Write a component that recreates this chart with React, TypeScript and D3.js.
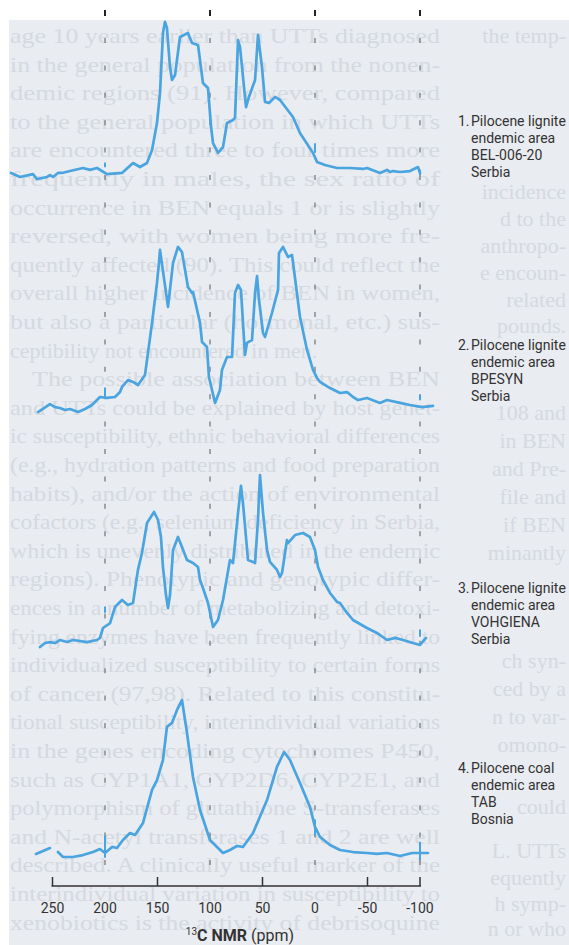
import React from 'react';
import * as d3 from 'd3';

// ---- data ----

// chemical shift ticks (ppm)
const tickLabels = [250, 200, 150, 100, 50, 0, -50, -100];
const gridPpm = [200, 100, 0, -100];
const axisTickPpm = [250, 150, 50, -50, -100];

// spectrum 1: BEL-006-20 (intensity, arbitrary units)
const ppm1 = [289.5, 281, 268.6, 264.8, 255.2, 252.4, 249.5, 244.8, 241, 233.3, 221, 214.3, 207.6, 198.1, 183.8, 173.3, 166.7, 160, 155.2, 150.5, 147.6, 144.8, 142.9, 141, 138.1, 136.2, 133.3, 128.6, 121, 117.1, 111.4, 106.7, 101.9, 99, 97.1, 92.4, 87.6, 83.8, 78.1, 76.2, 73.3, 71.4, 65.7, 62.9, 57.1, 54.3, 50.5, 47.6, 43.8, 38.1, 33.3, 21, 14.3, 1.9, -1.9, -9.5, -21, -33.3, -45.7, -49.5, -61.9, -68.6, -71.4, -74.3, -81, -90.5, -98.1, -100];
const int1 = [-0.6, -3.1, -1.3, -4.4, -3.1, -1.9, -3.1, -0.6, -0.6, 0.6, 2.5, 1.3, 2.5, -1.3, -0.6, 5.6, 3.1, 5.6, 13.8, 30.6, 49.4, 86.9, 93.8, 90, 65.6, 57.5, 60.6, 84.4, 86.9, 80.6, 79.4, 55.6, 52.5, 28.1, 18.1, 11.9, 15.6, 30.6, 32.5, 33.8, 82.5, 78.1, 40.6, 46.9, 57.5, 85.6, 65.6, 43.8, 43.1, 46.9, 45, 34.4, 24.4, 11.9, 6.3, 4.4, 2.5, 2.5, 1.9, 2.5, -0.6, 1.3, 0, 0.6, 0, 0.6, 3.1, -0.6];

// spectrum 2: BPESYN
const ppm2 = [263.8, 252.4, 247.6, 242.9, 238.1, 233.3, 225.7, 219, 212.4, 204.8, 198.1, 190.5, 185.7, 183.8, 178.1, 173.3, 168.6, 161.9, 155.2, 150.5, 148.6, 147.6, 140, 135.2, 130.5, 126.7, 121, 117.1, 116.2, 109.5, 107.6, 102.9, 101, 95.2, 90.5, 88.6, 83.8, 79, 76.2, 73.3, 70.5, 66.7, 64.8, 60, 57.1, 55.2, 53.3, 49.5, 47.6, 41, 35.2, 34.3, 30.5, 25.7, 21.9, 21, 14.3, 7.6, 1.9, -1.9, -4.8, -14.3, -23.8, -30.5, -36.2, -41, -49.5, -61.9, -68.6, -81, -90.5, -101.9, -112.4];
const int2 = [-4.4, 0.6, -1.3, -1.9, -3.1, -2.5, -4.4, -2.5, 0, 5, 4.4, 5, 8.1, 11.3, 15.6, 14.4, 12.5, 18.8, 51.3, 76.3, 89, 96.9, 61.3, 88.8, 98.8, 95.6, 73.8, 70, 70.6, 51.3, 39.4, 36.3, 17.5, 1.3, 9.4, 21.9, 30, 30, 70, 75, 71.9, 31.3, 38.8, 40.6, 70, 80.6, 65.6, 45, 42.5, 57.5, 71.9, 95, 98.8, 92.5, 93.8, 89.4, 55, 34.4, 21.9, 16.9, 14.4, 10.6, 7.5, 8.1, 5, 3.1, 4.4, 1.3, 3.1, 1.3, 0, -1.3, -0.6];

// spectrum 3: VOHGIENA
const ppm3 = [261.9, 257.1, 252.4, 247.6, 242.9, 236.2, 230.5, 217.1, 207.6, 204.8, 201.9, 195.2, 190.5, 183.8, 178.1, 173.3, 170.5, 168.6, 164.8, 160, 153.3, 149.5, 146.7, 144.8, 141.9, 140, 138.1, 135.2, 130.5, 126.7, 121.9, 116.2, 111.4, 109.5, 106.7, 101.9, 97.1, 92.4, 87.6, 83.8, 81, 78.1, 73.3, 70.5, 68.6, 63.8, 59, 57.1, 54.3, 52.4, 49.5, 45.7, 42.9, 36.2, 33.3, 31.4, 26.7, 25.7, 19, 11.4, 4.8, 0, -2.9, -7.6, -14.3, -21, -23.8, -30.5, -36.2, -49.5, -59, -68.6, -76.2, -83.8, -93.3, -100, -105.7];
const int3 = [-4.4, -1.9, -1.3, -1.9, 0, -1.3, 0, -1.3, 0, 1.3, 7.5, 10.6, 20.6, 25, 21.9, 23.1, 35.6, 43.8, 54.4, 73.1, 80, 75, 64.4, 45.6, 28.1, 20, 28.1, 56.3, 64.4, 58.1, 50, 48.1, 45.6, 37.5, 32.5, 23.1, 8.1, 12.5, 25, 39.4, 50, 48.1, 79.4, 96.3, 85.6, 50, 48.8, 48.1, 75, 103, 79.4, 56.3, 48.8, 43.8, 39.4, 41.9, 62.5, 60.6, 65.6, 66.9, 64.4, 56.3, 45.6, 37.5, 29.4, 23.8, 23.1, 16.9, 12.5, 7.5, 4.4, 0, 1.3, 0, -1.9, -3.1, 1.3];

// spectrum 4: TAB (null = gap in the trace)
const ppm4 = [265.7, 252.4, 248, 244.8, 240, 230.5, 221, 211.4, 204.8, 200, 193.3, 188.6, 182.9, 176.2, 171.4, 163.8, 155.2, 150.5, 144.8, 141, 136.2, 131.4, 126.7, 121.9, 116.2, 109.5, 100, 87.6, 81, 74.3, 68.6, 59, 45.7, 36.2, 29.5, 23.8, 14.3, 4.8, 0, -4.8, -14.3, -23.8, -36.2, -49.5, -59, -68.6, -81, -92.4, -107.6];
const int4 = [-0.6, 3.1, null, 0.6, -2.5, -2.5, -1.3, 0.6, 2.5, 0, 3.8, 3.1, 8.1, 12.5, 11.3, 18.8, 39.4, 45.6, 58.1, 78.8, 81.3, 89.4, 95.6, 75, 47.5, 26.9, 8.1, 0, 1.9, 4.4, 3.8, 12.5, 33.1, 53.8, 63.1, 58.1, 43.8, 28.8, 16.3, 10, 5, 1.9, 0.6, 0, -0.6, 0, -1.9, 0, 0];

// small blue strokes where the traces cross the grid: [spectrum, ppm, low, high]
const crossMarks = [
  [0, 200, 3, 6], [0, 0, 12, 18], [0, -100, -2, 1.5],
  [1, 200, 4, 11], [1, -100, 3, 6.5],
  [2, 200, 17, 21], [2, -100, 2, 6.5],
  [3, 200, -3, 11], [3, 0, 11, 21], [3, -100, -4.5, 7],
];

const sampleLabels = [
  ['1.', 'Pilocene lignite', 'endemic area', 'BEL-006-20', 'Serbia'],
  ['2.', 'Pilocene lignite', 'endemic area', 'BPESYN', 'Serbia'],
  ['3.', 'Pilocene lignite', 'endemic area', 'VOHGIENA', 'Serbia'],
  ['4.', 'Pilocene coal', 'endemic area', 'TAB', 'Bosnia'],
];

// page text showing through the scan
const leftColumn = [
  'age 10 years earlier than UTTs diagnosed',
  'in the general population from the nonen-',
  'demic regions (91). However, compared',
  'to the general population in which UTTs',
  'are encountered three to four times more',
  'frequently in males, the sex ratio of',
  'occurrence in BEN equals 1 or is slightly',
  'reversed, with women being more fre-',
  'quently affected (90). This could reflect the',
  'overall higher incidence of BEN in women,',
  'but also a particular (hormonal, etc.) sus-',
  'ceptibility not encountered in men.',
  'The possible association between BEN',
  'and UTTs could be explained by host genet-',
  'ic susceptibility, ethnic behavioral differences',
  '(e.g., hydration patterns and food preparation',
  'habits), and/or the action of environmental',
  'cofactors (e.g., selenium deficiency in Serbia,',
  'which is unevenly distributed in the endemic',
  'regions). Phenotypic and genotypic differ-',
  'ences in a number of metabolizing and detoxi-',
  'fying enzymes have been frequently linked to',
  'individualized susceptibility to certain forms',
  'of cancer (97,98). Related to this constitu-',
  'tional susceptibility, interindividual variations',
  'in the genes encoding cytochromes P450,',
  'such as CYP1A1, CYP2D6, CYP2E1, and',
  'polymorphism of glutathione S-transferases',
  'and N-acetyl transferases 1 and 2 are well',
  'described. A clinically useful marker of the',
  'interindividual variation in susceptibility to',
  'xenobiotics is the activity of debrisoquine',
];
const rightColumn = ['the temp-', 'incidence', 'd to the', 'anthropo-', 'e encoun-', 'related', 'pounds.', '108 and', 'in BEN', 'and Pre-', 'file and', 'if BEN', 'minantly', 'ch syn-', 'ced by a', 'n to var-', 'omono-', 'could', 'L. UTTs', 'equently', 'h symp-', 'n or who'];
// where each right-column fragment sits (text centre, px)
const rightColumnY = [36, 192, 219, 246, 273, 300, 326, 413, 441, 469, 497, 525, 553, 661, 689, 717, 745, 807, 851, 878, 904, 929];

const W = 569;
const H = 945;
const BLUE = '#4aa4e0';
const panelBase = [172, 405, 640, 853];
const labelTop = [121, 345, 588, 768];

export default function App() {
  const x = d3.scaleLinear().domain([250, -100]).range([52.5, 420]);
  const ys = panelBase.map((b) => d3.scaleLinear().domain([0, 100]).range([b, b - 160]));

  const spectra = [
    [ppm1, int1],
    [ppm2, int2],
    [ppm3, int3],
    [ppm4, int4],
  ];

  const lineRow = (n: number) => 43 + 28.6 * n;

  return (
    <svg
      width={W}
      height={H}
      style={{ position: 'absolute', left: 0, top: 0, display: 'block' }}
    >
      <rect x={0} y={0} width={W} height={H} fill="#ffffff" />
      <rect x={9} y={20} width={W - 9} height={H - 20} fill="#e9ecf1" />

      {/* bleed-through text */}
      <g fontFamily="'Liberation Serif', 'DejaVu Serif', serif" fontSize={22} fill="#d5d9e0">
        {leftColumn.map((t, i) => {
          const indent = i === 12 ? 22 : 0;
          const last = i === 11;
          return (
            <text
              key={i}
              x={10 + indent}
              y={lineRow(i)}
              textLength={last ? undefined : 430 - indent}
              lengthAdjust="spacingAndGlyphs"
            >
              {t}
            </text>
          );
        })}
        {rightColumn.map((t, i) => (
          <text key={i} x={566} y={rightColumnY[i] + 7} textAnchor="end">
            {t}
          </text>
        ))}
      </g>

      {/* top ticks */}
      {gridPpm.map((p) => (
        <line key={p} x1={x(p)} x2={x(p)} y1={10} y2={16} stroke="#222" strokeWidth={2} />
      ))}

      {/* dashed grid */}
      {gridPpm.map((p) => (
        <line
          key={p}
          x1={x(p)}
          x2={x(p)}
          y1={38}
          y2={872}
          stroke="#6f7276"
          strokeWidth={1.2}
          strokeDasharray="5 22.4"
        />
      ))}

      {/* spectra */}
      {spectra.map(([ppm, ints], k) => {
        const pts = ppm.map((p, i) => [p, ints[i]] as [number, number | null]);
        const path = d3
          .line<[number, number | null]>()
          .defined((d) => d[1] !== null)
          .x((d) => x(d[0]))
          .y((d) => ys[k](d[1] as number))(pts);
        return (
          <path
            key={k}
            d={path || ''}
            fill="none"
            stroke={BLUE}
            strokeWidth={2.7}
            strokeLinejoin="round"
            strokeLinecap="round"
          />
        );
      })}
      {crossMarks.map(([k, p, lo, hi], i) => (
        <line
          key={i}
          x1={x(p)}
          x2={x(p)}
          y1={ys[k](lo)}
          y2={ys[k](hi)}
          stroke={BLUE}
          strokeWidth={2}
        />
      ))}

      {/* sample labels */}
      <g fontFamily="Roboto, 'Liberation Sans', sans-serif" fontSize={14} fill="#333">
        {sampleLabels.map((lab, k) => (
          <g key={k}>
            <text x={458} y={labelTop[k] + 5}>
              {lab[0]}
            </text>
            {lab.slice(1).map((t, j) => (
              <text key={j} x={471} y={labelTop[k] + 5 + j * 17}>
                {t}
              </text>
            ))}
          </g>
        ))}
      </g>

      {/* bottom axis */}
      <line x1={x(250) - 1} x2={x(-100) + 1} y1={886} y2={886} stroke="#333" strokeWidth={1.5} />
      {axisTickPpm.map((p) => (
        <line key={p} x1={x(p)} x2={x(p)} y1={886} y2={877} stroke="#333" strokeWidth={1.5} />
      ))}
      <g fontFamily="Roboto, 'Liberation Sans', sans-serif" fontSize={14} fill="#333" textAnchor="middle">
        {tickLabels.map((p) => (
          <text key={p} x={x(p)} y={913}>
            {p}
          </text>
        ))}
        <text x={240} y={941} fontSize={16}>
          <tspan fontSize={10} dy={-6}>13</tspan>
          <tspan fontWeight="bold" dy={6}>C NMR</tspan>
          <tspan> (ppm)</tspan>
        </text>
      </g>
    </svg>
  );
}
